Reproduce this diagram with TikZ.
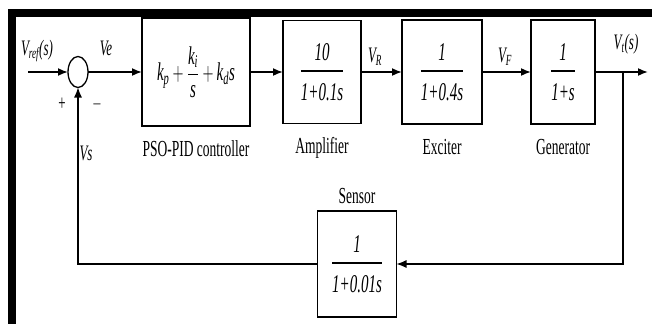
\documentclass[tikz,border=0pt]{standalone}
\usepackage{amsmath}
\usepackage{graphicx}
\usepackage{fontspec}
\setmainfont{Liberation Serif}
\usepackage{tikz}
\usetikzlibrary{arrows.meta,positioning,shapes.geometric}

\newcommand{\tall}[1]{\scalebox{1}[1.7]{#1}}
\newcommand{\tfun}[2]{\tall{$\genfrac{}{}{1.1pt}{0}{\textit{#1}}{\rule{0pt}{13.5pt}\textit{#2}}$}}

\begin{document}
\begin{tikzpicture}[x=1pt, y=-1pt,
    node distance=33pt,
    flow/.style={-{Latex[length=10pt,width=8pt]}, line width=1.7pt},
    ret/.style={-{Latex[length=10pt,width=8pt]}, line width=1.2pt},
    block/.style={draw, line width=1.3pt, inner sep=0pt, outer sep=0pt,
        font=\fontsize{15}{18}\selectfont},
    summer/.style={draw, ellipse, line width=1.3pt, minimum width=20pt,
        minimum height=31pt, inner sep=0pt, outer sep=0pt},
    caption/.style={inner sep=0pt, text height=16pt, text depth=4pt,
        font=\fontsize{13.5}{16}\selectfont},
    signal/.style={inner sep=0pt, font=\fontsize{13}{16}\selectfont}
]
\useasboundingbox (0,0) rectangle (652,324);
\fill (8,9) rectangle (652,17);
\fill (8,9) rectangle (16,324);

\node[summer] (sum) at (78,72) {};
\coordinate[left=40pt of sum] (ref);
\node[block, minimum width=108pt, minimum height=108pt, right=54pt of sum] (pid)
    {\tall{$\textit{k}_{\textit{p}}+\genfrac{}{}{1pt}{0}{\textit{k}_{\textit{i}}}{\textit{s}}+\textit{k}_{\textit{d}}\textit{s}$}};
\node[block, minimum width=78pt, minimum height=103pt, right=33pt of pid] (amp) {\tfun{10}{1+0.1s}};
\node[block, minimum width=80pt, minimum height=104pt, right=41pt of amp] (exc) {\tfun{1}{1+0.4s}};
\node[block, minimum width=64pt, minimum height=104pt, right=49pt of exc] (gen) {\tfun{1}{1+s}};
\coordinate[right=28pt of gen] (tap);
\coordinate[right=53pt of gen] (vt);
\node[block, minimum width=79pt, minimum height=106pt] (sensor) at (357,264) {\tfun{1}{1+0.01s}};

\node[caption, below=14pt of pid] (pidcap) {\tall{PSO-PID controller}};
\node[caption, below=14pt of amp] (ampcap) {\tall{Amplifier}};
\node[caption, below=14pt of exc] (exccap) {\tall{Exciter}};
\node[caption, below=14pt of gen] (gencap) {\tall{Generator}};
\node[caption, above=3pt of sensor] (sencap) {\tall{Sensor}};

\node[signal] (vref) at (37,51) {\tall{$\textit{V}_{\textit{ref}}\textit{(s)}$}};
\node[signal] (ve) at (106,48) {\tall{\textit{Ve}}};
\node[signal] (plus) at (62,104) {\tall{+}};
\node[signal] (minus) at (97,104) {\tall{$-$}};
\node[signal] (vs) at (86,153) {\tall{\textit{Vs}}};
\node[signal] (vr) at (375,57) {\tall{$\textit{V}_{\textit{R}}$}};
\node[signal] (vf) at (505,57) {\tall{$\textit{V}_{\textit{F}}$}};
\node[signal] (vtl) at (626,44) {\tall{$\textit{V}_{\textit{t}}\textit{(s)}$}};

\draw[flow] (ref) -- (sum);
\draw[flow] (sum) -- (pid);
\draw[flow] (pid) -- (amp);
\draw[flow] (amp) -- (exc);
\draw[flow] (exc) -- (gen);
\draw[flow] (gen) -- (vt);
\draw[ret] (tap) |- (sensor);
\draw[ret] (sensor) -| (sum);
\end{tikzpicture}
\end{document}
